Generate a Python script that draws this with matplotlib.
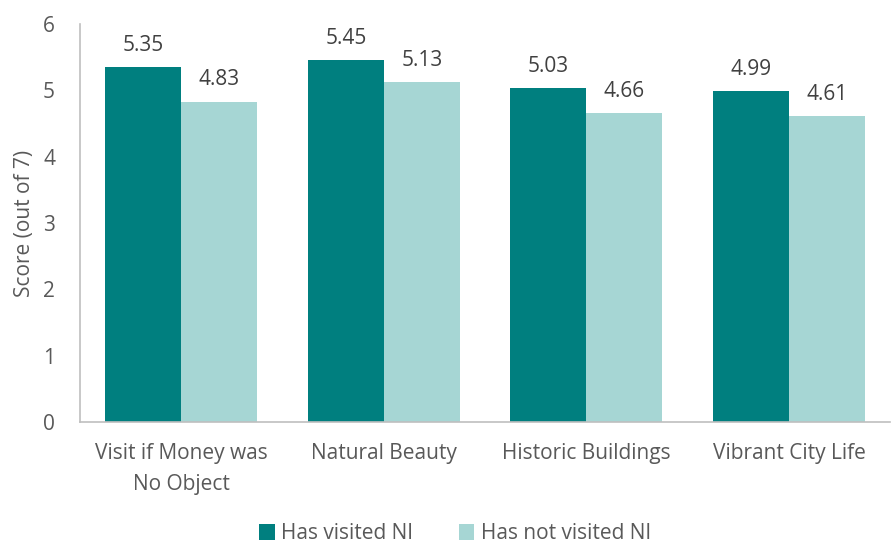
import numpy as np
import matplotlib.pyplot as plt

plt.rcParams["font.family"] = ["Open Sans", "DejaVu Sans"]

categories = ["Visit if Money was\nNo Object", "Natural Beauty", "Historic Buildings", "Vibrant City Life"]
visited = [5.35, 5.45, 5.03, 4.99]
not_visited = [4.83, 5.13, 4.66, 4.61]
series_labels = ["Has visited NI", "Has not visited NI"]
colors = ["#007F7F", "#A6D6D4"]

fig = plt.figure(figsize=(8.92, 5.44), dpi=100)
ax = fig.add_axes([0.0897, 0.224, 0.9083, 0.732])

x = np.arange(len(categories))
w = 0.375
b1 = ax.bar(x - w / 2, visited, width=w, color=colors[0], label=series_labels[0])
b2 = ax.bar(x + w / 2, not_visited, width=w, color=colors[1], label=series_labels[1])

for bars in (b1, b2):
    for rect in bars:
        ax.annotate("{:.2f}".format(rect.get_height()),
                    (rect.get_x() + rect.get_width() / 2, rect.get_height()),
                    xytext=(0, 8), textcoords="offset points",
                    ha="center", va="bottom", fontsize=15, color="#404040")

ax.set_xlim(-0.5, len(categories) - 0.5)
ax.set_ylim(0, 6)
ax.set_xticks(x)
ax.set_xticklabels(categories, fontsize=15, color="#595959", linespacing=1.6)
ax.tick_params(axis="y", labelsize=15, labelcolor="#595959", length=0, pad=18)
ax.tick_params(axis="x", length=0, pad=15)
ax.set_ylabel("Score (out of 7)", fontsize=15, color="#595959", labelpad=6)

for s in ["top", "right"]:
    ax.spines[s].set_visible(False)
for s in ["left", "bottom"]:
    ax.spines[s].set_color("#BFBFBF")
    ax.spines[s].set_linewidth(1.2)

fig.legend(loc="lower center", bbox_to_anchor=(0.51, -0.035), ncol=2, frameon=False,
           fontsize=15, handlelength=0.75, handleheight=0.75, columnspacing=2.2,
           handletextpad=0.3, labelcolor="#595959")

fig.savefig("out.png", dpi=100)
